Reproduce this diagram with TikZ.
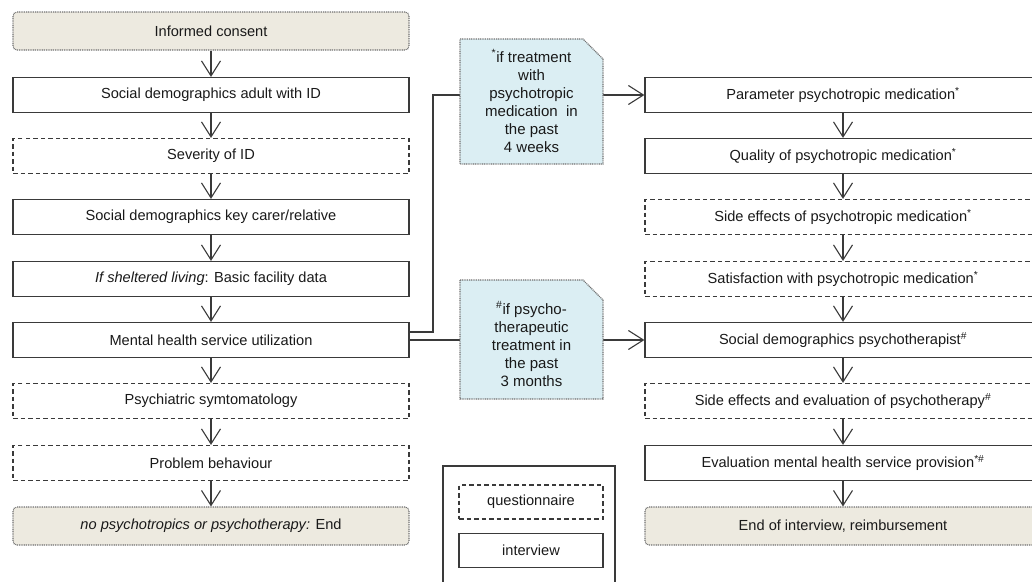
\documentclass[tikz,border=0pt]{standalone}
\usepackage{fontspec}
\setmainfont{Liberation Sans}
\usetikzlibrary{arrows.meta}
\definecolor{linec}{HTML}{3A3A3A}
\definecolor{beige}{HTML}{EDEAE0}
\definecolor{noteblue}{HTML}{DBEEF3}
\definecolor{dotc}{HTML}{707070}
\newcommand{\sst}[1]{\textsuperscript{#1}}
\tikzset{
  box/.style={draw=linec, line width=1.2pt, minimum width=396pt, minimum height=35pt, inner sep=0pt, font=\fontsize{14.6}{17}\selectfont, text=black!90},
  qbox/.style={box, dash pattern=on 4.5pt off 3pt},
  endbox/.style={box, draw=dotc, line width=1.1pt, dash pattern=on 1pt off 0.8pt, fill=beige, rounded corners=4pt, minimum height=38pt},
  notetext/.style={align=center, font=\fontsize{15}{18}\selectfont, text=black!90, inner sep=0pt},
  notefill/.style={draw=dotc, line width=1.1pt, dash pattern=on 1pt off 0.8pt, fill=noteblue},
  arr/.style={draw=linec, line width=1.1pt, -{Straight Barb[length=15pt, width=19pt, line width=1.1pt]}},
  conn/.style={draw=linec, line width=1.1pt},
  legbox/.style={draw=linec, line width=1.2pt, minimum width=144pt, minimum height=34pt, inner sep=0pt, font=\fontsize{14.6}{17}\selectfont, text=black!90},
}
\begin{document}
\begin{tikzpicture}[x=1pt,y=-1pt]
\useasboundingbox (0,0) rectangle (1032,581);
\clip (0,0) rectangle (1032,581);
% left column
\node[endbox] (ic)  at (211,31)  {Informed consent};
\node[box]    (sda) at (211,95)  {Social demographics adult with ID};
\node[qbox]   (sev) at (211,156) {Severity of ID};
\node[box]    (sdk) at (211,217) {Social demographics key carer/relative};
\node[box]    (shl) at (211,279) {\textit{If sheltered living}: Basic facility data};
\node[box]    (mhs) at (211,340) {Mental health service utilization};
\node[qbox]   (psy) at (211,401) {Psychiatric symtomatology};
\node[qbox]   (prb) at (211,463) {Problem behaviour};
\node[endbox] (nop) at (211,526) {\textit{no psychotropics or psychotherapy:} End};
% right column
\node[box]    (par) at (843,95)  {Parameter psychotropic medication\sst{*}};
\node[box]    (qua) at (843,156) {Quality of psychotropic medication\sst{*}};
\node[qbox]   (sid) at (843,217) {Side effects of psychotropic medication\sst{*}};
\node[qbox]   (sat) at (843,279) {Satisfaction with psychotropic medication\sst{*}};
\node[box]    (sdp) at (843,340) {Social demographics psychotherapist\sst{\#}};
\node[qbox]   (sep) at (843,401) {Side effects and evaluation of psychotherapy\sst{\#}};
\node[box]    (emh) at (843,463) {Evaluation mental health service provision\sst{*\#}};
\node[endbox] (eoi) at (843,526) {End of interview, reimbursement};
% vertical arrows
\foreach \a/\b in {ic/sda,sda/sev,sev/sdk,sdk/shl,shl/mhs,mhs/psy,psy/prb,prb/nop,
                   par/qua,qua/sid,sid/sat,sat/sdp,sdp/sep,sep/emh,emh/eoi}
  \draw[arr] (\a.south) -- (\b.north);
% branch connectors
\coordinate (bend) at (433,332);
\draw[arr] (mhs.east |- bend) -- (bend) |- (par.west);
\draw[arr] (mhs.east) -- (sdp.west);
% notes
\draw[notefill] (460,39) -- (583,39) -- (603,59) -- (603,164) -- (460,164) -- cycle;
\draw[notefill] (460,280) -- (583,280) -- (603,300) -- (603,399) -- (460,399) -- cycle;
\node[notetext] (n1) at (531.5,101) {\sst{*}if treatment\\with\\psychotropic\\medication\ \ in\\the past\\4 weeks};
\node[notetext] (n2) at (531.5,344) {\sst{\#}if psycho-\\therapeutic\\treatment in\\the past\\3 months};
% legend
\draw[conn] (443,600) -- (443,466) -- (615,466) -- (615,600);
\node[legbox, dash pattern=on 4.5pt off 3pt] (lq) at (531,502) {questionnaire};
\node[legbox] (li) at (531,550.5) {interview};
\end{tikzpicture}
\end{document}
